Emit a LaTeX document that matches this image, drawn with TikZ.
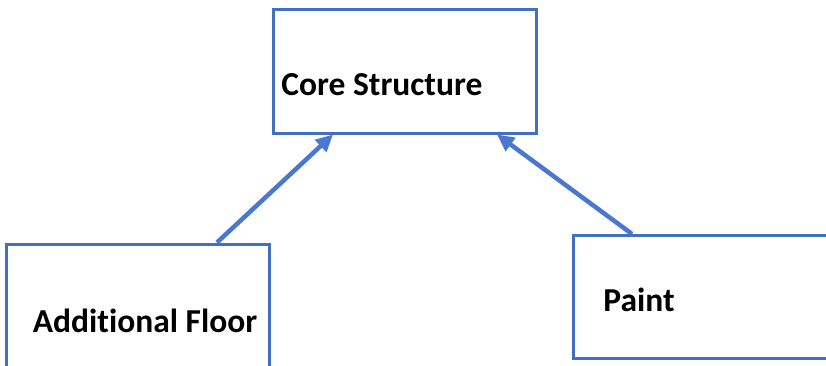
\documentclass[tikz,border=0pt]{standalone}
\usepackage{fontspec}
\setmainfont[RawFeature={-liga}]{Carlito}
\usetikzlibrary{arrows.meta}
\definecolor{boxblue}{HTML}{4170C0}
\definecolor{arrblue}{HTML}{4A78D0}
\begin{document}
\begin{tikzpicture}[x=1pt,y=1pt,
  box/.style={draw=boxblue,line width=3pt,minimum width=263pt,minimum height=123pt,inner sep=0pt},
  lbl/.style={font=\fontsize{33.5}{38}\selectfont\bfseries,inner sep=0pt,text=black},
  arr/.style={draw=arrblue,line width=4.5pt,-{Triangle[length=17pt,width=16pt]}}]
\useasboundingbox (0,0) rectangle (826,365);
\clip (0,0) rectangle (826,365);
\node[box] (core) at (404.5,293.5) {};
\node[box] (lb) at (137.5,59.5) {};
\node[box] (rb) at (704.5,68) {};
\node[lbl] (t1) at (382,280) {Core Structure};
\node[lbl] (t2) at (145,44) {Additional Floor};
\node[lbl] (t3) at (639,65) {Paint};
\draw[arr] ([xshift=79.5pt]lb.north) -- ([xshift=-71.5pt]core.south);
\draw[arr] ([xshift=-72.5pt]rb.north) -- ([xshift=92.5pt]core.south);
\end{tikzpicture}
\end{document}
